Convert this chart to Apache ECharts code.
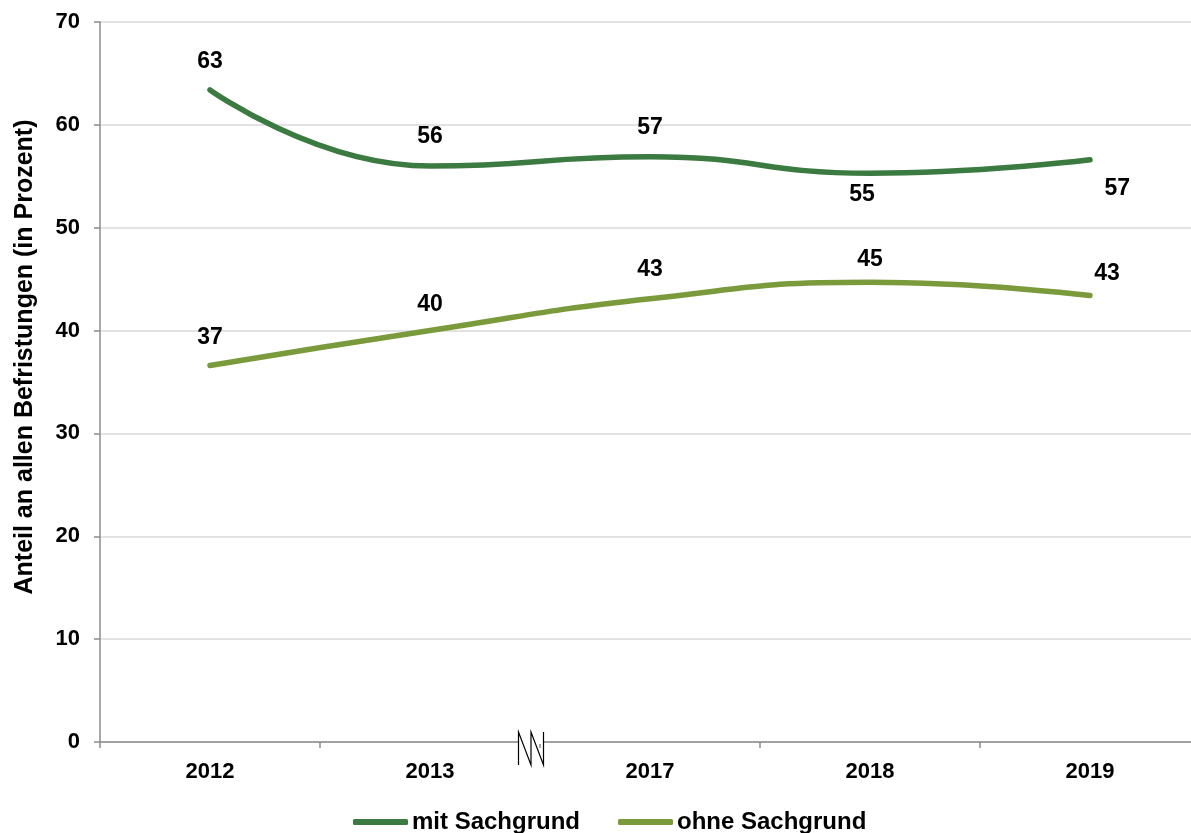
<!DOCTYPE html>
<html>
<head>
<meta charset="utf-8">
<script src="https://cdn.jsdelivr.net/npm/echarts@6/dist/echarts.min.js"></script>
<style>
  html, body { margin: 0; padding: 0; background: #ffffff; }
  #chart { width: 1191px; height: 833px; }
</style>
</head>
<body>
<div id="chart"></div>
<script>
// Survey years (axis is broken between 2013 and 2017)
const years = ['2012', '2013', '2017', '2018', '2019'];

// Share of all fixed-term contracts, in percent
const mitSachgrund = [63.4, 56.0, 56.9, 55.3, 56.6];
const ohneSachgrund = [36.6, 40.0, 43.1, 44.7, 43.4];

const seriesNames = ['mit Sachgrund', 'ohne Sachgrund'];
const yTicks = { min: 0, max: 70, interval: 10 };

const FONT = '"Liberation Sans", Arial, sans-serif';
const COLOR_MIT = '#3b7a41';
const COLOR_OHNE = '#7b9a3c';

// Label placement per point, so labels stay clear of the curves
const mitLabelPlacement = [
  { position: 'top', distance: 16 },
  { position: 'top', distance: 17 },
  { position: 'top', distance: 17 },
  { position: 'bottom', distance: 9, offset: [-8, 0] },
  { position: 'right', distance: 14, offset: [0, 29] }
];
const ohneLabelPlacement = [
  { position: 'top', distance: 16 },
  { position: 'top', distance: 14 },
  { position: 'top', distance: 17 },
  { position: 'top', distance: 11 },
  { position: 'top', distance: 10, offset: [17, 0] }
];

function withLabels(values, placement) {
  return values.map((v, i) => ({ value: v, label: placement[i] }));
}

const labelStyle = {
  show: true,
  color: '#000000',
  fontFamily: FONT,
  fontWeight: 'bold',
  fontSize: 23,
  formatter: p => Math.round(p.value)
};

const chart = echarts.init(document.getElementById('chart'), null, { renderer: 'canvas' });

const option = {
  animation: false,
  backgroundColor: '#ffffff',
  grid: {
    left: 100, top: 22, width: 1100, bottom: 91,
    containLabel: false,
    outerBoundsMode: 'none'
  },
  xAxis: {
    type: 'category',
    data: years,
    boundaryGap: true,
    axisLine: { lineStyle: { color: '#8c8c8c', width: 1.5 } },
    axisTick: { show: true, length: 6, lineStyle: { color: '#8c8c8c', width: 1.5 } },
    axisLabel: {
      color: '#000000', fontFamily: FONT, fontWeight: 'bold', fontSize: 22, margin: 19
    },
    splitLine: { show: false }
  },
  yAxis: {
    type: 'value',
    min: yTicks.min,
    max: yTicks.max,
    interval: yTicks.interval,
    name: 'Anteil an allen Befristungen (in Prozent)',
    nameLocation: 'middle',
    nameGap: 62,
    nameTextStyle: {
      color: '#000000', fontFamily: FONT, fontWeight: 'bold', fontSize: 25,
      padding: [0, 0, 0, 50]
    },
    axisLine: { show: true, lineStyle: { color: '#8c8c8c', width: 1.5 } },
    axisTick: { show: true, length: 6, lineStyle: { color: '#8c8c8c', width: 1.5 } },
    axisLabel: {
      color: '#000000', fontFamily: FONT, fontWeight: 'bold', fontSize: 22, margin: 20
    },
    splitLine: { show: true, lineStyle: { color: '#d9d9d9', width: 1.5 } }
  },
  legend: {
    top: 805,
    left: 348,
    data: seriesNames,
    icon: 'roundRect',
    itemWidth: 55,
    itemHeight: 6,
    itemGap: 38,
    textStyle: { color: '#000000', fontFamily: FONT, fontWeight: 'bold', fontSize: 24, padding: [0, 0, 0, -1] }
  },
  series: [
    {
      name: seriesNames[0],
      type: 'line',
      smooth: 0.5,
      symbol: 'circle',
      symbolSize: 1,
      data: withLabels(mitSachgrund, mitLabelPlacement),
      lineStyle: { color: COLOR_MIT, width: 5.5, cap: 'round' },
      itemStyle: { color: COLOR_MIT },
      label: labelStyle
    },
    {
      name: seriesNames[1],
      type: 'line',
      smooth: 0.5,
      symbol: 'circle',
      symbolSize: 1,
      data: withLabels(ohneSachgrund, ohneLabelPlacement),
      lineStyle: { color: COLOR_OHNE, width: 5.5, cap: 'round' },
      itemStyle: { color: COLOR_OHNE },
      label: labelStyle
    }
  ]
};

chart.setOption(option);

// Axis break marker between 2013 and 2017
const xa = chart.convertToPixel({ xAxisIndex: 0 }, 1);
const xb = chart.convertToPixel({ xAxisIndex: 0 }, 2);
const y0 = chart.convertToPixel({ yAxisIndex: 0 }, 0);
const cx = (xa + xb) / 2 - 9;
const halfW = 12.5, breakTop = y0 - 10, breakBottom = y0 + 23;
chart.setOption({
  graphic: [
    {
      type: 'rect',
      shape: { x: cx - halfW, y: y0 - 2, width: 2 * halfW, height: 4 },
      style: { fill: '#ffffff' },
      z: 100
    },
    {
      type: 'polyline',
      shape: {
        points: [
          [cx - halfW, breakBottom], [cx - halfW, breakTop], [cx, breakBottom], [cx, breakTop],
          [cx + halfW, breakBottom], [cx + halfW, breakTop]
        ]
      },
      style: { stroke: '#000000', lineWidth: 1.2, fill: null },
      z: 101
    }
  ]
});
</script>
</body>
</html>
